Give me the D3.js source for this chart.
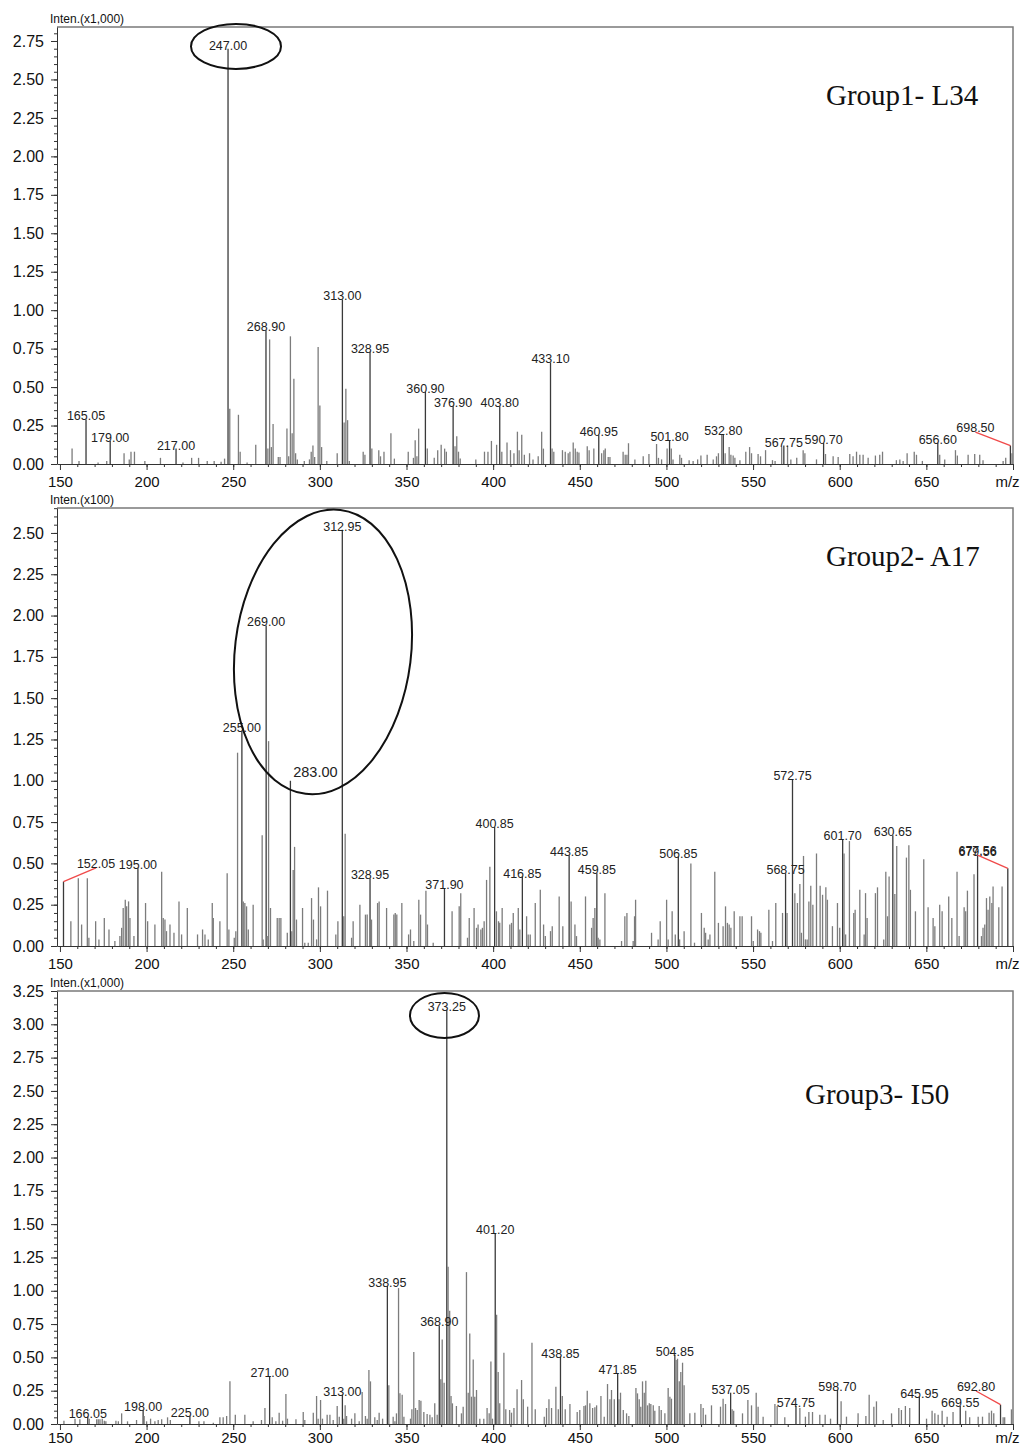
<!DOCTYPE html>
<html lang="en">
<head>
<meta charset="UTF-8">
<title>Mass spectra - Group1 / Group2 / Group3</title>
<script src="https://d3js.org/d3.v7.min.js"></script>
<style>
  body { margin: 0; background: #fff; font-family: Arial, "Liberation Sans", sans-serif; }
  .peak { stroke: #7c7c7c; stroke-width: 1.3; }
  .peak.labelled { stroke: #3a3a3a; }
  .peak-label { font-size: 12.5px; fill: #222; text-anchor: middle; }
  .axis path, .axis line { stroke: #333; }
  .axis text { fill: #111; font-family: Arial, "Liberation Sans", sans-serif; }
  .frame { stroke: #7a7a7a; stroke-width: 1.5; fill: none; }
  .inten { font-size: 12px; fill: #111; }
  .title { font-family: "Times New Roman", "Liberation Serif", serif; font-size: 29px; fill: #111; }
  .leader { stroke: #f04a4a; stroke-width: 1.3; }
  .ring { fill: none; stroke: #111; stroke-width: 2; }
</style>
</head>
<body>
<svg width="1022" height="1446"></svg>
<script>
// m/z axis
const xTicks = [150, 200, 250, 300, 350, 400, 450, 500, 550, 600, 650, 700];

// Group1 - L34, intensity x1,000  [m/z, intensity]
const group1Peaks = [
  [157,0.10],[161,0.02],[165.05,0.29],[172,0.01],[177,0.02],[179.0,0.15],[187,0.07],[190,0.03],[191,0.08],[193,0.08],
  [199,0.02],[208,0.04],[217.0,0.10],[221,0.01],[226,0.04],[230,0.04],[235,0.02],[239,0.02],[243,0.015],[245,0.035],
  [247.0,2.70],[248,0.36],[253,0.32],[254,0.08],[258,0.01],[263,0.125],[268.9,0.87],[270,0.10],[271,0.81],[272,0.11],
  [273,0.26],[276,0.045],[277,0.045],[281,0.23],[282,0.05],[283,0.83],[284,0.20],[285,0.555],[286,0.07],[287,0.03],
  [291,0.02],[294,0.03],[295,0.08],[296,0.12],[297,0.045],[299,0.76],[300,0.38],[301,0.11],[304,0.02],[310,0.07],
  [313.0,1.07],[314,0.27],[315,0.49],[316,0.285],[317,0.02],[325,0.08],[326,0.06],[328.95,0.73],[330,0.10],[334,0.09],
  [335,0.05],[337,0.08],[341,0.20],[343,0.035],[351,0.08],[354,0.04],[355,0.155],[356,0.05],[357,0.23],[360.9,0.47],
  [362,0.10],[366,0.04],[368,0.09],[370,0.125],[372,0.10],[373,0.08],[376.9,0.375],[378,0.115],[379,0.18],[380,0.08],
  [381,0.035],[390,0.03],[395,0.08],[397,0.08],[399,0.15],[402,0.125],[403.8,0.375],[405,0.08],[408,0.14],[410,0.09],
  [412,0.07],[414,0.21],[415,0.09],[416.5,0.19],[418,0.06],[421,0.07],[423,0.03],[426,0.05],[428,0.21],[429,0.10],
  [433.1,0.66],[434,0.10],[435,0.08],[440,0.09],[441.6,0.08],[443.3,0.07],[444.3,0.08],[446.2,0.14],[447.4,0.10],[448.5,0.08],
  [449.5,0.075],[454.3,0.115],[455.4,0.09],[458.1,0.10],[460.95,0.19],[462.6,0.07],[463.9,0.09],[464.7,0.10],[466.4,0.045],[467.4,0.045],
  [475,0.08],[476.2,0.06],[477.2,0.06],[478.1,0.135],[481.8,0.03],[486.6,0.05],[489.9,0.065],[494.3,0.13],[495.4,0.04],[497.2,0.03],
  [500.4,0.10],[501.8,0.155],[502.8,0.10],[503.8,0.03],[507.7,0.06],[508.7,0.04],[513.1,0.025],[515.4,0.02],[518,0.03],[519.9,0.055],
  [523.5,0.06],[527,0.03],[528.9,0.05],[530,0.07],[531.9,0.195],[532.8,0.195],[533.9,0.07],[536.2,0.11],[537.2,0.06],[538.5,0.055],
  [539.5,0.04],[542.4,0.025],[545.8,0.08],[548,0.11],[549.1,0.07],[552.9,0.065],[554.3,0.05],[557.2,0.09],[561.2,0.025],[562.7,0.02],
  [566.5,0.11],[567.75,0.12],[569.9,0.12],[571.8,0.03],[575.2,0.04],[578.9,0.09],[579.9,0.07],[586.6,0.03],[590.7,0.137],[591.8,0.065],
  [596.2,0.05],[599.1,0.045],[605.8,0.065],[607.7,0.05],[609.7,0.08],[611.6,0.06],[613.5,0.06],[616.4,0.04],[620.6,0.055],[623.1,0.06],
  [624.7,0.08],[632.7,0.025],[634.7,0.03],[636.6,0.02],[638.9,0.07],[643,0.08],[644.3,0.06],[647.7,0.02],[656.6,0.137],[657.7,0.06],
  [660.6,0.03],[666.8,0.09],[667.9,0.055],[674.1,0.06],[677.9,0.065],[680.8,0.06],[682.7,0.025],[694.3,0.02],[695.8,0.04],[698.5,0.12],
  [699.4,0.07]
];
const group1Labels = [165.05, 179.00, 217.00, 247.00, 268.90, 313.00, 328.95, 360.90, 376.90, 403.80,
  433.10, 460.95, 501.80, 532.80, 567.75, 590.70, 656.60];

// Group2 - A17, intensity x100
const group2Peaks = [
  [152.05,0.39],[156.3,0.15],[160.6,0.41],[162.5,0.13],[165.8,0.41],[166.7,0.05],[170.6,0.15],[172.5,0.04],[175.6,0.17],[178.3,0.10],
  [181.7,0.03],[184.6,0.06],[185.6,0.11],[186.5,0.23],[187.7,0.28],[188.5,0.24],[189.6,0.27],[190.4,0.17],[192.7,0.06],[195.0,0.47],
  [199.4,0.26],[200.6,0.15],[204.8,0.13],[208.7,0.45],[209.6,0.17],[210.6,0.16],[211.5,0.09],[213.5,0.13],[215.8,0.08],[218.7,0.27],
  [220.2,0.07],[223.5,0.23],[229.4,0.07],[232.3,0.10],[233.7,0.07],[235.6,0.04],[237.9,0.26],[238.5,0.17],[242.3,0.15],[246.5,0.44],
  [247.5,0.10],[250.6,0.05],[251.5,0.09],[252.5,1.17],[255.0,1.30],[255.8,0.27],[256.7,0.26],[257.7,0.24],[258.7,0.10],[261.5,0.25],
  [266.7,0.67],[267.3,0.04],[269.0,1.94],[269.6,0.06],[270.4,1.24],[271.5,0.23],[275.4,0.17],[276.5,0.17],[277.5,0.17],[281.2,0.08],
  [283.0,1.00],[283.8,0.09],[284.6,0.46],[285.4,0.60],[286.5,0.16],[290,0.23],[291.3,0.02],[293.3,0.02],[295.2,0.29],[296.3,0.16],
  [298.1,0.04],[299.2,0.355],[300.4,0.24],[304.4,0.335],[309.2,0.07],[310.4,0.15],[312.95,2.52],[313.8,0.18],[314.6,0.68],[318.3,0.05],
  [319.2,0.15],[323.1,0.25],[326.3,0.19],[327.3,0.19],[328.95,0.41],[329.8,0.16],[333.3,0.26],[334.2,0.27],[338.5,0.23],[342.7,0.19],
  [343.5,0.20],[344.4,0.19],[347.3,0.26],[351.2,0.07],[352.3,0.10],[354.2,0.03],[357.1,0.28],[358.1,0.19],[361.2,0.335],[362.1,0.13],
  [365.4,0.02],[371.9,0.35],[376.3,0.21],[380.4,0.24],[381.3,0.32],[385.2,0.05],[386.2,0.17],[389,0.23],[390.4,0.11],[391.3,0.13],
  [392.9,0.10],[393.8,0.11],[394.8,0.15],[396.2,0.40],[398.1,0.48],[400.85,0.72],[401.9,0.21],[403.1,0.15],[403.8,0.14],[405.2,0.23],
  [409.6,0.13],[410.6,0.14],[411.6,0.20],[414.5,0.23],[415.4,0.10],[416.85,0.42],[419.3,0.18],[420.2,0.07],[421.4,0.07],[424.3,0.26],
  [427.2,0.34],[429.1,0.13],[430.1,0.06],[433.1,0.09],[434.1,0.12],[438.1,0.30],[440.2,0.12],[443.85,0.55],[445,0.27],[447.2,0.13],
  [448.1,0.06],[453.3,0.30],[456.8,0.11],[457.7,0.17],[458.7,0.23],[459.85,0.44],[460.6,0.05],[461.6,0.04],[464.5,0.32],[474.1,0.03],
  [476,0.18],[477.2,0.20],[480.8,0.03],[481.6,0.18],[482.2,0.28],[491.4,0.08],[495.2,0.04],[496.4,0.15],[500.1,0.28],[501,0.04],
  [503.3,0.21],[505.1,0.07],[506.85,0.54],[507.6,0.04],[510.2,0.09],[514.1,0.50],[516.2,0.02],[520.2,0.20],[521.8,0.11],[522.6,0.08],
  [524.1,0.04],[525.1,0.07],[527.9,0.45],[530,0.14],[532.7,0.12],[534.1,0.24],[535.2,0.14],[536.2,0.13],[537.2,0.11],[539.1,0.21],
  [542.4,0.18],[543.7,0.18],[549.1,0.18],[550.1,0.03],[552.6,0.10],[553.7,0.09],[554.5,0.08],[559.1,0.22],[561.2,0.03],[563.1,0.26],
  [567,0.20],[568.75,0.44],[569.6,0.20],[572.75,1.01],[574.1,0.32],[575.6,0.26],[577,0.375],[577.9,0.08],[579.1,0.545],[580.2,0.04],
  [581.2,0.04],[582.2,0.27],[583.3,0.365],[584.5,0.25],[586.6,0.56],[588.7,0.365],[590.1,0.31],[592,0.355],[592.9,0.28],[595.8,0.12],
  [598.7,0.26],[600,0.11],[601.7,0.645],[602.5,0.56],[603.4,0.07],[605.6,0.635],[608.1,0.20],[608.9,0.22],[611.6,0.34],[614.1,0.07],
  [614.9,0.32],[615.8,0.17],[620.6,0.32],[621.8,0.355],[625.4,0.04],[626.6,0.45],[627.6,0.18],[628.5,0.42],[630.65,0.67],[631.8,0.315],
  [632.9,0.605],[638.5,0.535],[639.9,0.61],[640.8,0.34],[643.7,0.21],[648.5,0.525],[651,0.235],[653.9,0.17],[654.9,0.12],[657.7,0.25],
  [659.1,0.21],[662.9,0.30],[664.7,0.17],[667.7,0.45],[668.9,0.06],[671.8,0.235],[672.7,0.21],[673.7,0.335],[677.5,0.435],[679.56,0.55],
  [681.8,0.06],[682.7,0.11],[683.7,0.13],[684.7,0.29],[685.6,0.22],[686.6,0.30],[687.8,0.26],[688.5,0.36],[691.8,0.235],[693.7,0.36],
  [697.0,0.47]
];
const group2Labels = [195.00, 255.00, 269.00, 312.95, 328.95, 371.90, 400.85, 416.85, 443.85, 459.85,
  506.85, 568.75, 572.75, 601.70, 630.65, 679.56];

// Group3 - I50, intensity x1,000
const group3Peaks = [
  [152.3,0.025],[158.7,0.04],[161.5,0.035],[166.05,0.055],[166.9,0.04],[171.2,0.035],[172.1,0.035],[173.1,0.035],[174.4,0.04],[175.6,0.025],
  [176.5,0.02],[182.3,0.025],[183.7,0.02],[185.6,0.08],[189,0.02],[194.2,0.03],[198.0,0.105],[198.6,0.06],[200,0.02],[202.3,0.04],
  [204.8,0.02],[206.7,0.03],[208.7,0.035],[212.1,0.05],[213.7,0.03],[225.0,0.06],[230.2,0.02],[233.1,0.02],[238.5,0.01],[242.3,0.05],
  [244.2,0.05],[246.2,0.06],[248.1,0.32],[251.2,0.07],[256.7,0.07],[261.5,0.02],[266.3,0.03],[268.3,0.12],[271.0,0.36],[272.5,0.05],
  [274.6,0.02],[276.5,0.085],[278.5,0.025],[280.4,0.225],[281.3,0.04],[286.2,0.035],[290.4,0.09],[291.3,0.03],[296.2,0.085],[298.1,0.21],
  [299,0.04],[300.4,0.18],[301.5,0.04],[304.2,0.07],[305.8,0.07],[307.7,0.03],[310,0.135],[311.2,0.055],[313.0,0.22],[313.8,0.04],
  [314.6,0.14],[315.4,0.06],[318.3,0.04],[320.2,0.08],[322.7,0.02],[324.4,0.24],[326.3,0.06],[327.3,0.04],[328.3,0.405],[329.2,0.32],
  [331.7,0.05],[333.1,0.03],[334.2,0.085],[336.2,0.04],[338.95,1.035],[339.8,0.29],[342.3,0.055],[343.3,0.02],[344.2,0.08],[345.4,1.02],
  [346.2,0.23],[347.5,0.22],[348.5,0.055],[352.3,0.04],[353.1,0.11],[354.2,0.54],[355.2,0.12],[356.2,0.105],[357.3,0.18],[358.3,0.175],
  [360,0.09],[361.9,0.075],[363.5,0.07],[364.8,0.05],[366.3,0.155],[367.7,0.07],[368.9,0.74],[369.8,0.335],[370.6,0.635],[371.7,0.31],
  [373.25,3.11],[374.0,1.18],[374.9,0.85],[375.7,0.21],[376.5,0.155],[378.8,0.135],[381.7,0.08],[382.7,0.13],[384.6,1.14],[385.6,0.235],
  [386.5,0.68],[387.5,0.205],[388.5,0.485],[389.4,0.205],[390.4,0.255],[392.3,0.04],[394.6,0.04],[396.5,0.12],[397.7,0.08],[398.7,0.47],
  [399.6,0.04],[401.2,1.43],[402.0,0.82],[402.9,0.39],[403.8,0.155],[406.2,0.535],[407.3,0.11],[409.5,0.105],[410.6,0.085],[412,0.12],
  [413.8,0.26],[416.4,0.33],[417.4,0.185],[419.9,0.13],[422.4,0.61],[424.3,0.11],[429.5,0.055],[430.8,0.12],[432.2,0.185],[433.7,0.12],
  [436.2,0.28],[437.6,0.11],[438.85,0.505],[439.9,0.21],[441.6,0.11],[444.3,0.15],[448.5,0.09],[450,0.105],[452.4,0.135],[453.3,0.14],
  [454.3,0.25],[455.8,0.155],[457.4,0.12],[458.7,0.125],[459.7,0.14],[462.2,0.21],[464.1,0.055],[466,0.30],[467.4,0.185],[468.3,0.255],
  [469.9,0.185],[471.85,0.38],[472.6,0.185],[473.5,0.235],[475.1,0.105],[477,0.08],[478.3,0.06],[482.4,0.27],[483.3,0.23],[484.3,0.185],
  [485.2,0.13],[486.2,0.32],[487.2,0.235],[488.1,0.325],[489.1,0.14],[490.1,0.155],[491,0.15],[492.4,0.14],[493.3,0.10],[495.8,0.135],
  [497,0.105],[499.1,0.08],[501,0.27],[502,0.205],[502.9,0.19],[504.85,0.52],[505.6,0.48],[506.4,0.49],[507.4,0.32],[508.3,0.39],
  [509.3,0.46],[510.2,0.29],[513.5,0.08],[516.4,0.085],[519.9,0.15],[521.2,0.12],[522.6,0.07],[526,0.14],[531.2,0.13],[532.7,0.19],
  [534.1,0.15],[537.05,0.235],[537.9,0.11],[538.8,0.10],[543.9,0.08],[547,0.18],[549.1,0.14],[551.8,0.235],[552.9,0.13],[555.8,0.055],
  [562.6,0.15],[563.9,0.135],[568.3,0.05],[574.75,0.135],[577,0.12],[580.2,0.055],[582.2,0.09],[584.3,0.09],[588.5,0.07],[591.6,0.07],
  [594.7,0.04],[598.7,0.255],[600.8,0.17],[603.9,0.055],[610.6,0.08],[615.1,0.06],[617,0.22],[619.7,0.13],[621.2,0.17],[625.1,0.03],
  [629.9,0.08],[634.1,0.12],[635.6,0.105],[637.9,0.135],[640.4,0.12],[645.95,0.205],[650.1,0.04],[653.3,0.10],[654.9,0.08],[656.8,0.07],
  [659.1,0.10],[662,0.055],[665.4,0.09],[669.55,0.135],[672.7,0.10],[675,0.05],[679.9,0.055],[682.4,0.055],[686.2,0.085],[687.6,0.10],
  [688.9,0.08],[692.8,0.145],[694.3,0.05],[695.2,0.05],[699.1,0.11]
];
const group3Labels = [166.05, 198.00, 225.00, 271.00, 313.00, 338.95, 368.90, 373.25, 401.20, 438.85,
  471.85, 504.85, 537.05, 574.75, 598.70, 645.95, 669.55];

// labels moved away from their peak (red leader lines)
const group1Leaders = [{ mz: 698.50, text: "698.50" }];
const group2Leaders = [{ mz: 152.05, text: "152.05" }, { mz: 697.0, text: "677.56" }];
const group3Leaders = [{ mz: 692.80, text: "692.80" }];

const svg = d3.select("svg");
const fmt = d3.format(".2f");

const x = d3.scaleLinear().domain([148.3, 700]).range([57, 1013]);

const panels = [
  {
    peaks: group1Peaks, labels: group1Labels, leaders: group1Leaders,
    leaderOffsets: [[-35, -13.5]],
    top: 27, base: 464, yMax: 2.841, inten: "Inten.(x1,000)", xPad: 6,
    title: "Group1- L34", titleX: 826, titleY: 105,
    ring: { mz: 251.6, v: 2.715, rx: 45, ry: 22.5, rot: 0 }
  },
  {
    peaks: group2Peaks, labels: group2Labels, leaders: group2Leaders,
    leaderOffsets: [[32.5, -13.6], [-30.2, -13.3]],
    top: 508, base: 946, yMax: 2.651, inten: "Inten.(x100)", xPad: 6,
    title: "Group2- A17", titleX: 826, titleY: 566,
    ring: { mz: 301.8, v: 1.78, rx: 88, ry: 143, rot: 7 },
    extra: { mz: 283.00, dx: 25, dy: -4, size: 14.5 }
  },
  {
    peaks: group3Peaks, labels: group3Labels, leaders: group3Leaders,
    leaderOffsets: [[-24.5, -13.7]],
    top: 991, base: 1424, yMax: 3.25, inten: "Inten.(x1,000)", xPad: 2,
    title: "Group3- I50", titleX: 805, titleY: 1104,
    ring: { mz: 371.9, v: 3.067, rx: 34.5, ry: 22.5, rot: 0 }
  }
];

panels.forEach(p => {
  const g = svg.append("g");
  const y = d3.scaleLinear().domain([0, p.yMax]).range([p.base, p.top]);

  // frame (top and right)
  g.append("path").attr("class", "frame")
    .attr("d", `M${x.range()[0]},${p.top}H${x.range()[1]}V${p.base}`);

  // peaks
  const isLabelled = d => p.labels.includes(d[0]) || p.leaders.some(l => l.mz === d[0]) ||
    (p.extra && p.extra.mz === d[0]);
  g.selectAll("line.peak").data(p.peaks).join("line")
    .attr("class", d => "peak" + (isLabelled(d) ? " labelled" : ""))
    .attr("x1", d => x(d[0])).attr("x2", d => x(d[0]))
    .attr("y1", y(0)).attr("y2", d => y(d[1]));

  // y axis
  const yMajor = d3.range(0, p.yMax + 1e-6, 0.25);
  const yMinor = d3.range(0, p.yMax + 1e-6, 0.05);
  g.append("g").attr("class", "axis")
    .attr("transform", `translate(${x.range()[0]},0)`)
    .call(d3.axisLeft(y).tickValues(yMinor).tickSize(3).tickFormat(""))
    .call(a => a.select(".domain").remove());
  g.append("g").attr("class", "axis")
    .attr("transform", `translate(${x.range()[0]},0)`)
    .call(d3.axisLeft(y).tickValues(yMajor).tickSize(6).tickSizeOuter(0).tickPadding(7).tickFormat(fmt))
    .call(a => a.selectAll("text").style("font-size", "16px"));

  // x axis
  g.append("g").attr("class", "axis")
    .attr("transform", `translate(0,${p.base})`)
    .call(d3.axisBottom(x).tickValues(d3.range(160, 700, 10)).tickSize(3).tickFormat(""))
    .call(a => a.select(".domain").remove());
  g.append("g").attr("class", "axis")
    .attr("transform", `translate(0,${p.base})`)
    .call(d3.axisBottom(x).tickValues(xTicks).tickSize(6).tickSizeOuter(0).tickPadding(p.xPad)
      .tickFormat(d => d === 700 ? "m/z" : d))
    .call(a => a.selectAll("text").style("font-size", "15px")
      .attr("dx", d => d === 700 ? -6 : 0));

  // intensity unit
  g.append("text").attr("class", "inten")
    .attr("x", 50).attr("y", p.top - 4).text(p.inten);

  // peak labels
  const byMz = new Map(p.peaks.map(d => [d[0], d[1]]));
  g.selectAll("text.peak-label").data(p.labels).join("text")
    .attr("class", "peak-label")
    .attr("x", d => x(d)).attr("y", d => y(byMz.get(d)) + 1)
    .text(d => fmt(d));

  if (p.extra) {
    g.append("text").attr("class", "peak-label")
      .style("font-size", p.extra.size + "px")
      .attr("x", x(p.extra.mz) + p.extra.dx)
      .attr("y", y(byMz.get(p.extra.mz)) + p.extra.dy)
      .text(fmt(p.extra.mz));
  }

  // leader labels
  p.leaders.forEach((l, i) => {
    const [dx, dy] = p.leaderOffsets[i];
    const px = x(l.mz), py = y(byMz.get(l.mz));
    g.append("line").attr("class", "leader")
      .attr("x1", px).attr("y1", py).attr("x2", px + dx).attr("y2", py + dy);
    g.append("text").attr("class", "peak-label")
      .attr("x", px + dx).attr("y", py + dy).text(l.text);
  });

  // highlight ellipse
  const r = p.ring;
  g.append("ellipse").attr("class", "ring")
    .attr("transform", `translate(${x(r.mz)},${y(r.v)}) rotate(${r.rot})`)
    .attr("rx", r.rx).attr("ry", r.ry);

  // group title
  g.append("text").attr("class", "title")
    .attr("x", p.titleX).attr("y", p.titleY).text(p.title);
});
</script>
</body>
</html>
